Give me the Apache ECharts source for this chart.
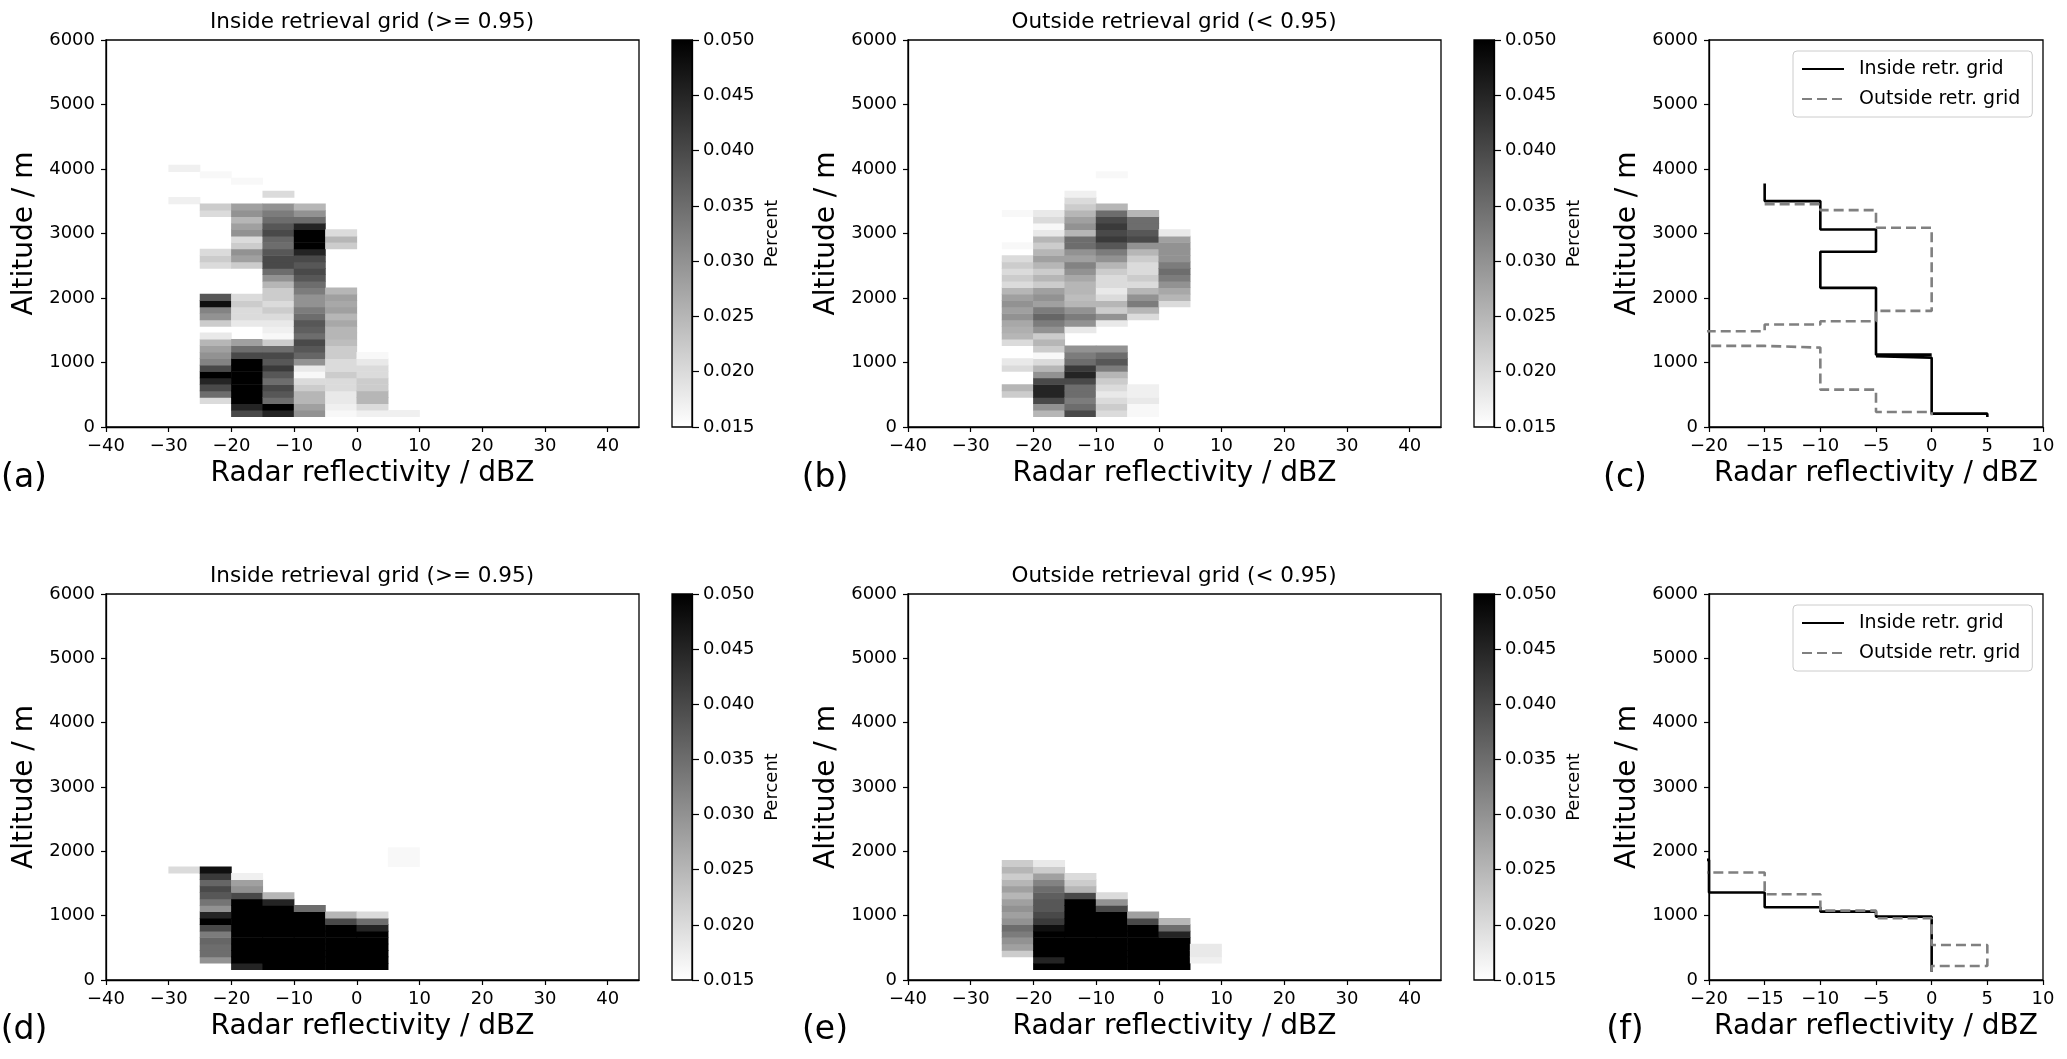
<!DOCTYPE html>
<html>
<head>
<meta charset="utf-8">
<title>Radar reflectivity vs altitude</title>
<script src="https://cdn.jsdelivr.net/npm/echarts@6/dist/echarts.min.js"></script>
<style>
  html, body { margin: 0; padding: 0; background: #fff; }
  #chart { width: 2067px; height: 1059px; }
</style>
</head>
<body>
<div id="chart"></div>
<script>
// bin lower edges: reflectivity (dBZ) and altitude (m)
var dbzBins = [-30, -25, -20, -15, -10, -5, 0, 5];
var altBins = [160, 260, 360, 460, 560, 660, 760, 860, 960, 1060,
  1160, 1260, 1360, 1460, 1560, 1660, 1760, 1860, 1960, 2060,
  2160, 2260, 2360, 2460, 2560, 2660, 2760, 2860, 2960, 3060,
  3160, 3260, 3360, 3460, 3560, 3660, 3760, 3860, 3960];
var dbzStep = 5, altStep = 100;

// (a) inside retrieval grid, one row per dbz bin, values per altitude bin
var histA = [
  [0,0,0,0,0,0,0,0,0,0, 0,0,0,0,0,0,0,0,0,0, 0,0,0,0,0,0,0,0,0,0, 0,0,0,.017,0,0,0,0,.017],
  [0,0,.02,.035,.04,.045,.05,.04,.032,.03, .028,.025,.018,0,.022,.03,.032,.048,.038,0, 0,0,0,.02,.022,.02,0,0,0,0, 0,.02,.022,0,0,0,0,.016,0],
  [.04,.045,.05,.05,.05,.05,.05,.05,.05,.04, .035,.028,0,0,.018,.02,.02,.022,.02,0, 0,0,0,.022,.028,.03,.022,.02,.03,.028, .025,.03,.028,0,0,0,.016],
  [.045,.05,.035,.038,.04,.035,.038,.042,.038,.04, .035,.022,.016,.017,.018,.02,.022,.02,.022,.022, .025,.03,.035,.04,.04,.038,.035,.036,.04,.038, .035,.033,.03,0,.02],
  [.03,.028,.025,.025,.022,.02,.016,.018,.03,.036, .038,.04,.035,.037,.038,.035,.033,.03,.03,.033, .035,.038,.04,.038,.04,.045,.05,.05,.05,.045, .035,.03,.025],
  [.016,.017,.018,.018,.02,.02,.022,.02,.02,.022, .022,.024,.025,.025,.027,.025,.028,.027,.028,.025, 0,0,0,0,0,0,.022,.025,.02],
  [.017,.02,.025,.025,.022,.022,.02,.02,.018,.016],
  [.017]
];

// (b) outside retrieval grid
var histB = [
  [],
  [0,0,0,.022,.025,0,0,.02,.018,0, 0,.02,.025,.026,.027,.03,.028,.03,.028,.025, .02,.022,.02,.022,.02,0,.016,0,0,0, 0,.016],
  [.025,.03,.04,.045,.045,.04,.03,.025,.02,.016, .022,.025,.022,.03,.033,.036,.033,.028,.03,.028, .022,.025,.022,.025,.028,.025,.022,.025,.018,.016, .02,.018],
  [.04,.035,.033,.035,.035,.04,.045,.042,.035,.033, .03,0,0,.018,.03,.033,.03,.025,.024,.025, .025,.027,.03,.032,.028,.03,.035,.035,.025,.03, .028,.025,.022,.02,.017],
  [.02,.022,.02,.018,.02,.022,.025,.033,.038,.035, .03,0,0,0,.018,.03,.022,.025,.02,.018, .02,.02,.022,.025,.03,.033,.038,.042,.04,.042, .04,.035,.025,0,0,0,0,.016],
  [.016,.016,.018,.017,.017,0,0,0,0,0, 0,0,0,0,0,.02,.025,.033,.03,.025, .02,.022,.02,.02,.022,.025,.03,.04,.038,.035, .035,.025],
  [0,0,0,0,0,0,0,0,0,0, 0,0,0,0,0,0,0,.02,.025,.027, .03,.033,.035,.033,.03,.03,.03,.028,.018],
  []
];

// (d) inside retrieval grid, second case
var histD = [
  [0,0,0,0,0,0,0,0,0,0, 0,0,0,0,0,.02],
  [0,.03,.035,.035,.036,.033,.04,.05,.045,.03, .034,.038,.04,.036,.042,.048],
  [.045,.05,.05,.05,.05,.05,.05,.05,.05,.05, .05,.04,.03,.028,.017],
  [.05,.05,.05,.05,.05,.05,.05,.05,.05,.05, .045,.025],
  [.05,.05,.05,.05,.05,.05,.05,.05,.05,.035],
  [.05,.05,.05,.05,.05,.05,.05,.04,.025],
  [.05,.05,.05,.05,.05,.05,.045,.035,.02],
  [0,0,0,0,0,0,0,0,0,0, 0,0,0,0,0,0,.016,.016,.016]
];

// (e) outside retrieval grid, second case
var histE = [
  [],
  [0,0,.022,.028,.03,.033,.035,.03,.028,.03, .028,.025,.028,.025,.022,.025,.022],
  [.05,.045,.05,.05,.05,.05,.048,.042,.04,.038, .038,.037,.035,.032,.028,.022,.018],
  [.05,.05,.05,.05,.05,.05,.05,.05,.05,.05, .05,.04,.025,.022,.02],
  [.05,.05,.05,.05,.05,.05,.05,.05,.05,.04, .03,.02],
  [.05,.05,.05,.05,.05,.05,.05,.04,.028],
  [.05,.05,.05,.05,.05,.045,.035,.025],
  [0,.017,.018,.018]
];

// (c) most frequent reflectivity per altitude
var inDbzC = [-15, -15, -10, -10, -5, -5, -10, -10, -5, -5, 0, 0, -5, -5, 0, 0, 5, 5];
var inAltC = [3776, 3502, 3502, 3062, 3062, 2716, 2716, 2157, 2157, 1122, 1122, 1098, 1098, 1075, 1075, 207, 207, 155];
var outDbzC = [-15, -10, -10, -5, -5, 0, 0, -5, -5, -10, -10, -15, -15, -25, -25, -15, -15, -10, -10, -5, -5, 0, 0];
var outAltC = [3455, 3455, 3362, 3362, 3088, 3088, 1800, 1800, 1640, 1640, 1588, 1588, 1485, 1485, 1257, 1257, 1231, 1231, 579, 579, 233, 233, 181];

// (f)
var inDbzF = [-25, -20, -20, -15, -15, -10, -10, -5, -5, 0, 0];
var inAltF = [1867, 1867, 1359, 1359, 1130, 1130, 1063, 1063, 985, 985, 130];
var outDbzF = [-25, -15, -15, -10, -10, -5, -5, 0, 0, 5, 5, 0, 0];
var outAltF = [1670, 1670, 1333, 1333, 1079, 1079, 959, 959, 545, 545, 218, 218, 130];

var heatTicks = [-40, -30, -20, -10, 0, 10, 20, 30, 40];
var cbMin = 0.015, cbMax = 0.05;

var FONT = 'DejaVu Sans';
var chart = echarts.init(document.getElementById('chart'));

function minus(v) {
  return v < 0 ? '\u2212' + Math.abs(v) : String(v);
}

function grey(v) {
  var t = Math.max(0, Math.min(1, (v - cbMin) / (cbMax - cbMin)));
  var g = Math.round(255 * (1 - t));
  return 'rgb(' + g + ',' + g + ',' + g + ')';
}

function cells(hist) {
  var out = [];
  hist.forEach(function (col, i) {
    col.forEach(function (v, j) {
      if (v > 0) out.push([dbzBins[i], altBins[j], v]);
    });
  });
  return out;
}

function pairs(xs, ys) {
  return xs.map(function (x, i) { return [x, ys[i]]; });
}

function renderCell(params, api) {
  var p0 = api.coord([api.value(0), api.value(1)]);
  var p1 = api.coord([api.value(0) + dbzStep, api.value(1) + altStep]);
  // small overlap so neighbouring cells leave no hairline seams
  return {
    type: 'rect',
    shape: { x: p0[0] - 0.3, y: p1[1] - 0.3, width: p1[0] - p0[0] + 0.6, height: p0[1] - p1[1] + 0.6 },
    style: { fill: grey(api.value(2)) }
  };
}

function renderBar(params, api) {
  var p0 = api.coord([0, cbMin]);
  var p1 = api.coord([1, cbMax]);
  return {
    type: 'rect',
    shape: { x: p0[0], y: p1[1], width: p1[0] - p0[0], height: p0[1] - p1[1] },
    style: {
      fill: new echarts.graphic.LinearGradient(0, 0, 0, 1, [
        { offset: 0, color: '#000' }, { offset: 1, color: '#fff' }
      ])
    }
  };
}

var rowTop = [40, 594];
var rowH = [387, 386];
var grids = [], xAxes = [], yAxes = [], series = [];

var tickStyle = { show: true, length: 5, lineStyle: { color: '#000', width: 1.2 } };
var lineStyle = { show: true, onZero: false, lineStyle: { color: '#000', width: 1.3 } };
var labelStyle = { color: '#000', fontFamily: FONT, fontSize: 18 };

function addGrid(left, width, row) {
  grids.push({
    left: left, top: rowTop[row], width: width, height: rowH[row],
    show: true, borderColor: '#000', borderWidth: 1.3, backgroundColor: 'transparent'
  });
  return grids.length - 1;
}

function valueY(gi) {
  return {
    gridIndex: gi, type: 'value', min: 0, max: 6000, interval: 1000,
    name: 'Altitude / m', nameLocation: 'middle', nameGap: 67,
    nameTextStyle: { color: '#000', fontFamily: FONT, fontSize: 28 },
    axisLine: lineStyle, axisTick: tickStyle,
    axisLabel: Object.assign({ margin: 11, formatter: function (v) { return String(v); } }, labelStyle),
    splitLine: { show: false }
  };
}

function dbzX(gi, min, max, interval, ticks) {
  var ax = {
    gridIndex: gi, type: 'value', min: min, max: max, interval: interval,
    name: 'Radar reflectivity / dBZ', nameLocation: 'middle', nameGap: 33,
    nameTextStyle: { color: '#000', fontFamily: FONT, fontSize: 28 },
    axisLine: lineStyle, axisTick: Object.assign({}, tickStyle),
    axisLabel: Object.assign({ margin: 10, formatter: minus }, labelStyle),
    splitLine: { show: false }
  };
  if (ticks) {
    ax.axisTick.customValues = ticks;
    ax.axisLabel.customValues = ticks;
  }
  return ax;
}

function addHeat(left, row, hist) {
  var gi = addGrid(left, 533, row);
  xAxes.push(dbzX(gi, -40, 45, 10, heatTicks));
  yAxes.push(valueY(gi));
  series.push({
    type: 'custom', xAxisIndex: gi, yAxisIndex: gi, z: -1, clip: true,
    renderItem: renderCell, data: cells(hist), silent: true
  });
  var ci = addGrid(left + 566, 20, row);
  xAxes.push({ gridIndex: ci, type: 'value', min: 0, max: 1, show: false });
  yAxes.push({
    gridIndex: ci, type: 'value', position: 'right', min: cbMin, max: cbMax, interval: 0.005,
    name: 'Percent', nameLocation: 'middle', nameGap: 71,
    nameTextStyle: { color: '#000', fontFamily: FONT, fontSize: 18 },
    axisLine: lineStyle,
    axisTick: { show: true, length: 7, lineStyle: { color: '#000', width: 1.2 } },
    axisLabel: Object.assign({ margin: 11, formatter: function (v) { return v.toFixed(3); } }, labelStyle),
    splitLine: { show: false }
  });
  series.push({
    type: 'custom', xAxisIndex: ci, yAxisIndex: ci, z: -1,
    renderItem: renderBar, data: [[0, cbMin, 1, cbMax]], silent: true
  });
}

function addProfile(row, inX, inY, outX, outY) {
  var gi = addGrid(1709, 334, row);
  xAxes.push(dbzX(gi, -20, 10, 5));
  yAxes.push(valueY(gi));
  series.push({
    name: 'Inside retr. grid', type: 'line', xAxisIndex: gi, yAxisIndex: gi,
    data: pairs(inX, inY), symbol: 'none', clip: true,
    lineStyle: { color: '#000', width: 2.6 }, itemStyle: { color: '#000' }
  });
  series.push({
    name: 'Outside retr. grid', type: 'line', xAxisIndex: gi, yAxisIndex: gi,
    data: pairs(outX, outY), symbol: 'none', clip: true,
    lineStyle: { color: '#808080', width: 2.6, type: [10, 5] }, itemStyle: { color: '#808080' }
  });
}

addHeat(106, 0, histA);
addHeat(908, 0, histB);
addProfile(0, inDbzC, inAltC, outDbzC, outAltC);
addHeat(106, 1, histD);
addHeat(908, 1, histE);
addProfile(1, inDbzF, inAltF, outDbzF, outAltF);

function legendAt(top) {
  return {
    left: 1793, top: top, orient: 'vertical',
    data: ['Inside retr. grid', 'Outside retr. grid'],
    itemWidth: 42, itemHeight: 14, itemGap: 10,
    padding: [8, 12, 8, 8],
    backgroundColor: 'rgba(255,255,255,0.8)',
    borderColor: '#cccccc', borderWidth: 1, borderRadius: 4,
    selectedMode: false,
    itemStyle: { opacity: 0 },
    textStyle: { color: '#000', fontFamily: FONT, fontSize: 19, lineHeight: 20, padding: [0, 0, 0, 10] }
  };
}

function text(str, x, y, size) {
  return {
    type: 'text', x: x, y: y, silent: true,
    style: { text: str, fill: '#000', font: size + 'px "' + FONT + '"', textAlign: 'center', textVerticalAlign: 'middle' }
  };
}

var titles = [
  text('Inside retrieval grid (>= 0.95)', 372, 22, 21.5),
  text('Outside retrieval grid (< 0.95)', 1174, 22, 21.5),
  text('Inside retrieval grid (>= 0.95)', 372, 576, 21.5),
  text('Outside retrieval grid (< 0.95)', 1174, 576, 21.5),
  text('(a)', 24, 478, 33),
  text('(b)', 825, 478, 33),
  text('(c)', 1625, 478, 33),
  text('(d)', 24, 1030, 33),
  text('(e)', 825, 1030, 33),
  text('(f)', 1625, 1030, 33)
];

chart.setOption({
  animation: false,
  backgroundColor: '#fff',
  grid: grids,
  xAxis: xAxes,
  yAxis: yAxes,
  legend: [legendAt(51), legendAt(605)],
  graphic: titles,
  series: series
});
</script>
</body>
</html>
